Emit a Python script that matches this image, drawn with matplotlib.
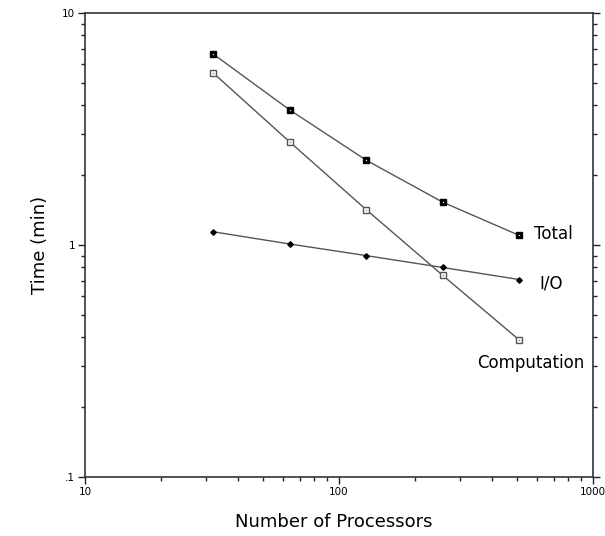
import matplotlib
matplotlib.use("Agg")
import matplotlib.pyplot as plt
from matplotlib.ticker import LogLocator, FixedLocator, FixedFormatter, NullFormatter

# data
procs = [32, 64, 128, 256, 512]
total = [6.65, 3.82, 2.32, 1.53, 1.10]
computation = [5.51, 2.78, 1.42, 0.74, 0.39]
io = [1.14, 1.01, 0.90, 0.80, 0.71]

xticks = [10, 100, 1000]
xticklabels = ["10", "100", "1000"]
yticks = [0.1, 1, 10]
yticklabels = [".1", "1", "10"]

plt.rcParams['font.family'] = ['DejaVu Sans']

fig = plt.figure(figsize=(6.05, 5.36), dpi=100)
ax = fig.add_axes([85 / 605, 1 - 477 / 536, 508 / 605, 464 / 536])

linec = '#555555'
ax.plot(procs, total, color=linec, lw=1, marker='s', ms=4.4, mfc='black', mec='black', zorder=3)
ax.plot(procs, total, ls='none', marker='s', ms=0.8, mew=0, mfc='white', zorder=4)
ax.plot(procs, computation, color=linec, lw=1, marker='s', ms=4.2, mfc='white', mec='#555555', mew=1, zorder=3)
ax.plot(procs, computation, ls='none', marker='s', ms=1.0, mew=0, mfc='#888888', zorder=4)
ax.plot(procs, io, color=linec, lw=1, marker='D', ms=2.8, mfc='black', mec='black', zorder=3)

ax.set_xscale('log')
ax.set_yscale('log')
ax.set_xlim(10, 1000)
ax.set_ylim(0.1, 10)

ax.xaxis.set_major_locator(FixedLocator(xticks))
ax.xaxis.set_major_formatter(FixedFormatter(xticklabels))
ax.xaxis.set_minor_locator(LogLocator(base=10, subs=range(2, 10)))
ax.xaxis.set_minor_formatter(NullFormatter())
ax.yaxis.set_major_locator(FixedLocator(yticks))
ax.yaxis.set_major_formatter(FixedFormatter(yticklabels))
ax.yaxis.set_minor_locator(LogLocator(base=10, subs=range(2, 10)))
ax.yaxis.set_minor_formatter(NullFormatter())

for s in ax.spines.values():
    s.set_color('#333333')
    s.set_linewidth(1.2)

ax.tick_params(which='both', direction='out', color='#222222', width=1,
               top=False, right=True, labelsize=7.5, pad=2)
ax.tick_params(which='major', length=5)
ax.tick_params(which='minor', length=3)

ax.set_xlabel("Number of Processors", fontsize=13)
ax.set_ylabel("Time (min)", fontsize=13)
ax.xaxis.label.set_va('center')
ax.yaxis.label.set_va('center')
ax.xaxis.set_label_coords(0.49, -45 / 464)
ax.yaxis.set_label_coords(-45 / 508, 0.5)

ax.annotate("Total", xy=(procs[-1], total[-1]), xytext=(15, 1),
            textcoords='offset pixels', fontsize=12, va='center', ha='left')
ax.annotate("I/O", xy=(procs[-1], io[-1]), xytext=(20, -4),
            textcoords='offset pixels', fontsize=12, va='center', ha='left')
ax.annotate("Computation", xy=(procs[-1], computation[-1]), xytext=(-42, -23),
            textcoords='offset pixels', fontsize=12, va='center', ha='left')

fig.savefig("out.png", dpi=100)
